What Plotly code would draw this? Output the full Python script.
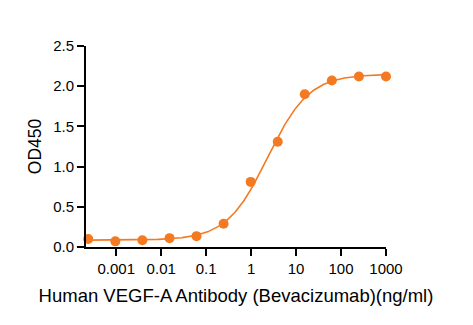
import numpy as np
import plotly.graph_objects as go

# Data
conc = [0.000238, 0.000954, 0.00381, 0.0153, 0.061, 0.244, 0.977, 3.91, 15.6, 62.5, 250, 1000]
od450 = [0.10, 0.07, 0.085, 0.11, 0.135, 0.29, 0.81, 1.31, 1.90, 2.07, 2.12, 2.12]

# 4-parameter logistic fit parameters (estimated from the drawn curve)
fit_bottom = 0.085
fit_top = 2.15
fit_ec50 = 2.35
fit_hill = 0.95

tick_vals = [0.001, 0.01, 0.1, 1, 10, 100, 1000]
tick_text = ["0.001", "0.01", "0.1", "1", "10", "100", "1000"]
y_ticks = [0, 0.5, 1.0, 1.5, 2.0, 2.5]
y_tick_text = ["0.0", "0.5", "1.0", "1.5", "2.0", "2.5"]

color = "#F47A22"

xs = np.logspace(np.log10(conc[0]), np.log10(conc[-1]), 400)
ys = fit_bottom + (fit_top - fit_bottom) / (1 + (fit_ec50 / xs) ** fit_hill)

fig = go.Figure()
fig.add_trace(go.Scatter(x=xs, y=ys, mode="lines",
                         line=dict(color=color, width=1.6), hoverinfo="skip",
                         cliponaxis=False))
fig.add_trace(go.Scatter(x=conc, y=od450, mode="markers",
                         marker=dict(color=color, size=10), cliponaxis=False))

font = "Liberation Sans, Arial, sans-serif"
fig.update_layout(
    width=473, height=325,
    margin=dict(l=86, r=87, t=46, b=78),
    paper_bgcolor="white", plot_bgcolor="white",
    showlegend=False,
    font=dict(family=font, color="black", size=15),
    xaxis=dict(type="log", range=[-3.673, 3.0],
               tickvals=tick_vals, ticktext=tick_text,
               showline=True, linecolor="black", linewidth=2,
               ticks="outside", ticklen=7, tickwidth=2, tickcolor="black",
               showgrid=False, zeroline=False,
               tickfont=dict(size=15, family=font),
               title=dict(text="Human VEGF-A Antibody (Bevacizumab)(ng/ml)",
                          font=dict(size=18.5, family=font), standoff=13)),
    yaxis=dict(range=[0, 2.5], tickvals=y_ticks, ticktext=y_tick_text,
               showline=True, linecolor="black", linewidth=2,
               ticks="outside", ticklen=7, tickwidth=2, tickcolor="black",
               showgrid=False, zeroline=False,
               tickfont=dict(size=15, family=font),
               title=dict(text="OD450", font=dict(size=17.5, family=font), standoff=7)),
)

fig.write_html("out.html")
